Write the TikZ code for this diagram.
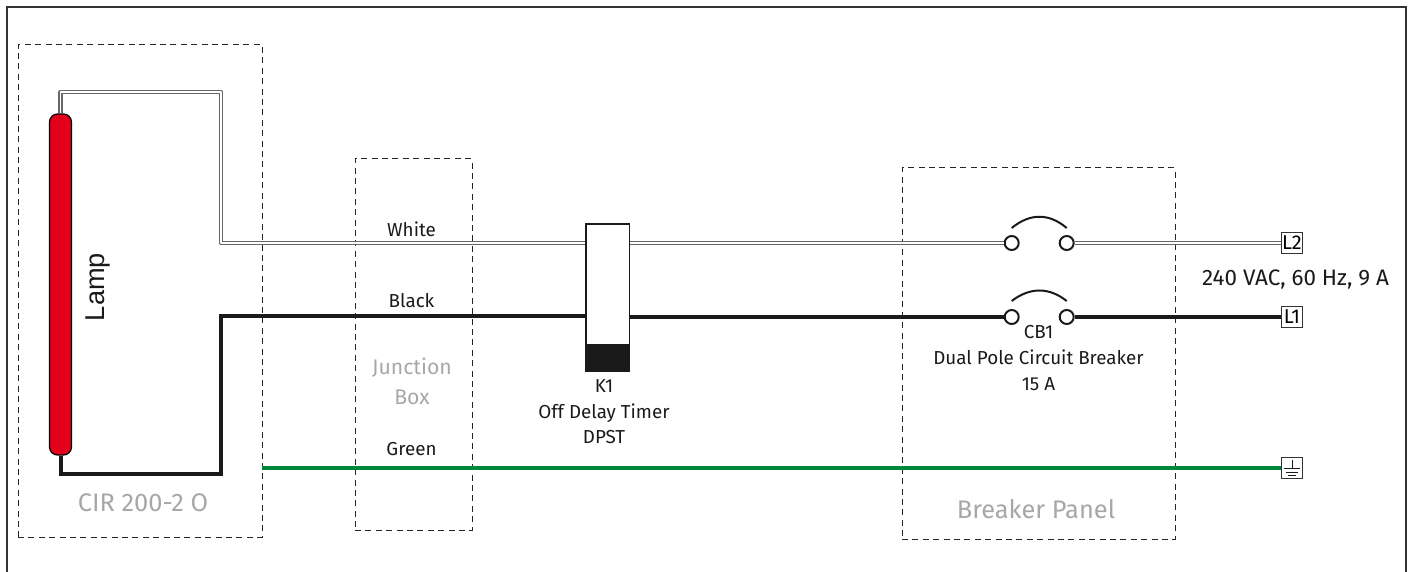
\documentclass[tikz,border=0pt]{standalone}
\usepackage{fontspec}
\usetikzlibrary{calc}
\setmainfont{Fira Sans}[Scale=1]
\newfontfamily\lampfont{Liberation Sans}
\definecolor{lampred}{HTML}{E2001A}
\definecolor{wiregreen}{HTML}{00873C}
\definecolor{labelgray}{HTML}{A6A8A8}
\definecolor{inkblack}{HTML}{1A1A1A}
\tikzset{
  x=0.5pt,y=-0.5pt,
  frameline/.style={draw=black!80,line width=1pt},
  zone/.style={draw=black!85,line width=0.5pt,dash pattern=on 3pt off 2.2pt},
  whitewire/.style={draw=black!60,line width=0.75pt,double=white,double distance=0.85pt},
  blackwire/.style={draw=inkblack,line width=2pt},
  greenwire/.style={draw=wiregreen,line width=2pt},
  contact/.style={circle,draw=inkblack,fill=white,line width=1pt,minimum size=7pt,inner sep=0pt},
  bridge/.style={draw=inkblack,line width=1pt},
  terminal/.style={draw=black!80,fill=white,line width=0.6pt,minimum width=10.5pt,minimum height=10.2pt,inner sep=0pt,font=\fontsize{10}{10}\selectfont},
  txt/.style={inner sep=0pt,text=inkblack,font=\fontsize{9.4}{12.8}\selectfont,align=center},
  graytxt/.style={inner sep=0pt,text=labelgray,font=\fontsize{12.7}{15}\selectfont,align=center},
  every node/.append style={anchor=center}
}
\begin{document}
\begin{tikzpicture}
\useasboundingbox (0,0) rectangle (1413,572);
\draw[frameline] (7,572) -- (7,7) -- (1405.5,7) -- (1405.5,572);
% zones
\node[zone,minimum width=122pt,minimum height=246pt,inner sep=0pt] (cirbox) at (140,291) {};
\node[zone,minimum width=58.5pt,minimum height=185.5pt,inner sep=0pt] (jbox) at (413.5,344.5) {};
\node[zone,minimum width=136.5pt,minimum height=185.5pt,inner sep=0pt] (panel) at (1038.5,353.5) {};
% components
\node[draw=black,fill=lampred,line width=0.6pt,rounded corners=4pt,minimum width=11pt,minimum height=170.5pt,inner sep=0pt] (lamp) at (60.5,284.5) {};
\node[draw=inkblack,fill=white,line width=0.6pt,minimum width=21.7pt,minimum height=73.5pt,inner sep=0pt] (timer) at (607.7,297.5) {};
\node[draw=inkblack,fill=inkblack,line width=0.6pt,minimum width=21.7pt,minimum height=13pt,inner sep=0pt] (timerblock) at (607.7,358) {};
\node[contact] (p2a) at (1011.7,243) {};
\node[contact] (p2b) at (1066.7,243) {};
\node[contact] (p1a) at (1011.7,317) {};
\node[contact] (p1b) at (1066.7,317) {};
\node[terminal] (l2) at (1292,243) {L2};
\node[terminal] (l1) at (1292,317) {L1};
\node[terminal] (gnd) at (1292,468) {};
% ground symbol
\draw[draw=inkblack,line width=0.5pt] (gnd.north) ++(0,3) -- ++(0,7.5);
\draw[draw=inkblack,line width=0.5pt] (1284,468.5) -- (1300,468.5);
\draw[draw=inkblack,line width=0.5pt] (1286,472) -- (1298,472);
\draw[draw=inkblack,line width=0.5pt] (1288,475) -- (1296,475);
% wire corners
\coordinate (wtl) at (60.5,92);
\coordinate (wtr) at (221,92);
\coordinate (wbr) at (221,243);
\coordinate (bbl) at (60.5,474);
\coordinate (bbr) at (221,474);
\coordinate (btr) at (221,315.5);
\coordinate (tw) at (timer.west |- wbr);
\coordinate (be) at (timer.west |- btr);
\coordinate (gs) at (262,468);
% wires
\draw[whitewire,line join=round] (lamp.north) -- (wtl) -- (wtr) -- (wbr) -- (tw);
\draw[whitewire] (timer.east |- p2a) -- (p2a.west);
\draw[whitewire] (p2b.east) -- (l2.west);
\draw[blackwire,line join=miter] (lamp.south) -- (bbl) -- (bbr) -- (btr) -- (be);
\draw[blackwire] (timer.east |- p1a) -- (p1a.west);
\draw[blackwire] (p1b.east) -- (l1.west);
\draw[greenwire] (gs) -- (gnd.west);
% bridges
\draw[bridge] ($(p2a.north)+(0,-7)$) .. controls (1030,213) and (1049,213) .. ($(p2b.north)+(0,-7)$);
\draw[bridge] ($(p1a.north)+(0,-8)$) .. controls (1030,287) and (1049,287) .. ($(p1b.north)+(0,-8)$);
% labels
\node[txt] (twhite) at (411.5,229) {White};
\node[txt] (tblack) at (411.5,301) {Black};
\node[txt] (tgreen) at (411.5,449) {Green};
\node[txt] (tk1) at (604,412) {K1\\Off Delay Timer\\DPST};
\node[txt] (tcb1) at (1038.5,358) {CB1\\Dual Pole Circuit Breaker\\15 A};
\node[txt,font=\fontsize{11.2}{13}\selectfont] (tvac) at (1295.5,280) {240 VAC, 60 Hz, 9 A};
\node[anchor=base,inner sep=0pt,rotate=90,font=\lampfont\fontsize{13.6}{15}\selectfont,text=inkblack] (tlamp) at (104,287) {Lamp};
\node[graytxt,font=\fontsize{10.6}{15}\selectfont] (tjb) at (412,381) {Junction\\Box};
\node[graytxt] (tcir) at (143,503) {CIR 200-2 O};
\node[graytxt] (tbp) at (1036,509) {Breaker Panel};
\end{tikzpicture}
\end{document}
